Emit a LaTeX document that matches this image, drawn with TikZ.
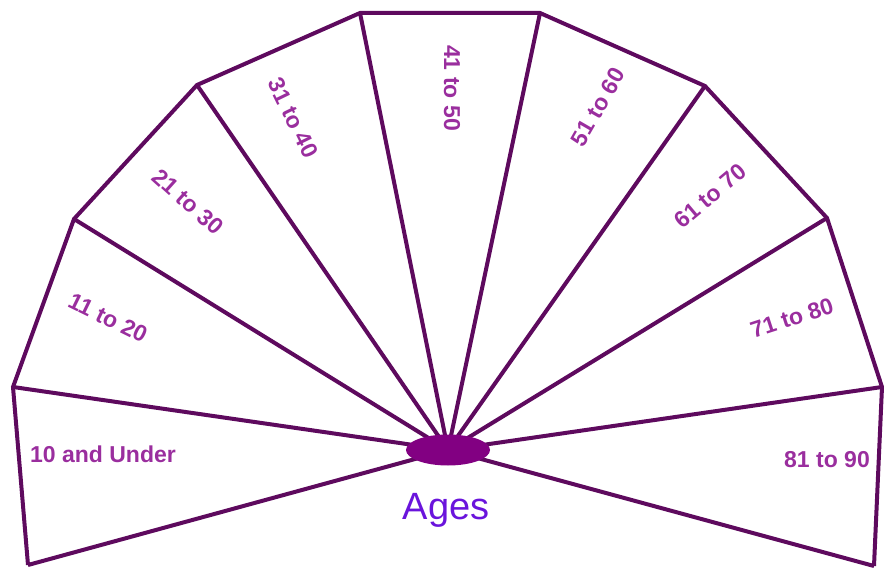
\documentclass[tikz,border=0pt]{standalone}
\usepackage{fontspec}
\setmainfont{Liberation Sans}
\usetikzlibrary{positioning,shapes.geometric}
\definecolor{ALine}{HTML}{5E0A5E}
\definecolor{ALabel}{HTML}{9A2E9E}
\definecolor{AHub}{HTML}{820082}
\definecolor{AViolet}{HTML}{6A14DC}

\begin{document}
\begin{tikzpicture}[x=1pt,y=-1pt,
  ln/.style={draw=ALine,line width=4pt,line join=miter},
  lb/.style={text=ALabel,font=\fontsize{23}{23}\selectfont\bfseries,inner sep=0pt},
  hub/.style={ellipse,fill=AHub,minimum width=84pt,minimum height=31pt,inner sep=0pt}
]
  \useasboundingbox (0,0) rectangle (884,569);
  \coordinate (c) at (448,450);
  \foreach \n/\x/\y in {0/28/565,1/13/387,2/74/219,3/197/85,4/360/13,
                        5/540/13,6/705/86,7/827/218,8/882/387,9/874/566}
    \coordinate (p\n) at (\x,\y);
  % fan
  \foreach \n in {0,...,9}
    \draw[ln] (c) -- (p\n);
  \draw[ln] (p0) -- (p1) -- (p2) -- (p3) -- (p4) -- (p5) -- (p6) -- (p7) -- (p8) -- (p9);
  \node[hub] (h) at (c) {};
  % age bands
  \node[lb] (a1) at (103,454) {10 and Under};
  \node[lb,rotate=-26] (a2) at (108,318) {11 to 20};
  \node[lb,rotate=-42] (a3) at (188,202) {21 to 30};
  \node[lb,rotate=-64] (a4) at (293,118) {31 to 40};
  \node[lb,rotate=-90] (a5) at (452,88) {41 to 50};
  \node[lb,rotate=60] (a6) at (598,107) {51 to 60};
  \node[lb,rotate=40] (a7) at (710,196) {61 to 70};
  \node[lb,rotate=18] (a8) at (792,318) {71 to 80};
  \node[lb] (a9) at (827,460) {81 to 90};
  \node[text=AViolet,font=\fontsize{38}{38}\selectfont,inner sep=0pt] (ages) at (446,510) {Ages};
\end{tikzpicture}
\end{document}
